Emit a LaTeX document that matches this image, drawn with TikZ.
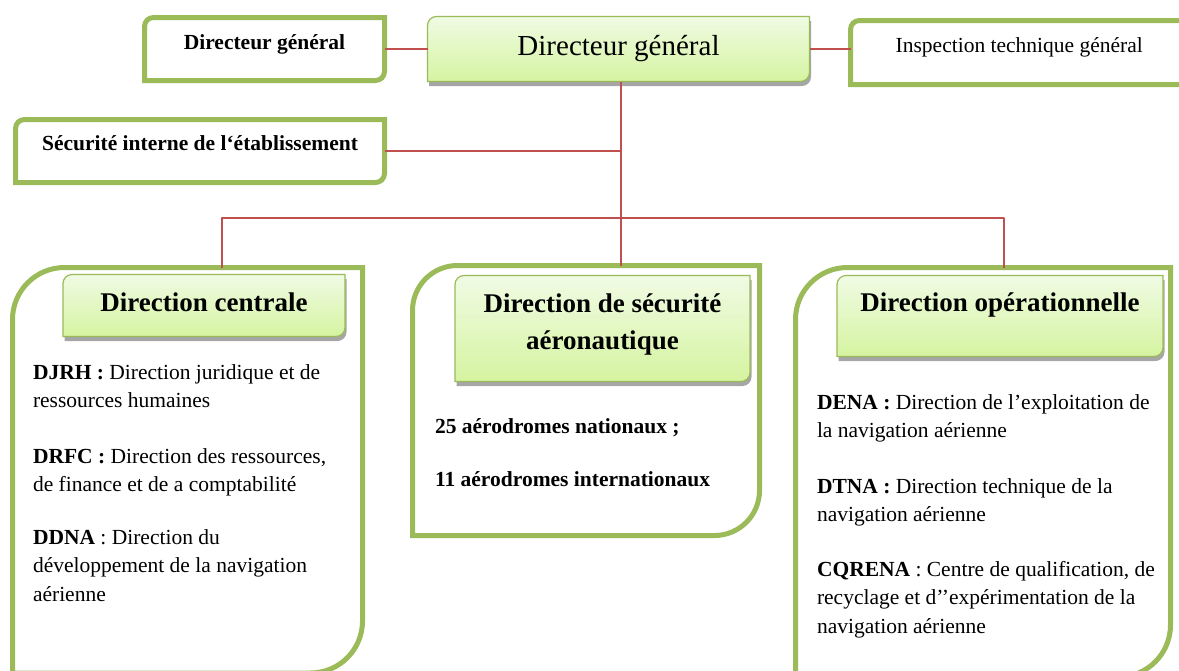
\documentclass[tikz,border=0pt]{standalone}
\usepackage{fontspec}
\setmainfont{Liberation Serif}
\usepackage{tikz}
\usetikzlibrary{backgrounds}
\definecolor{ocGreen}{HTML}{9BBB59}
\definecolor{ocRed}{HTML}{C0504D}
\definecolor{ocTop}{HTML}{F0FBE4}
\definecolor{ocBottom}{HTML}{D5F4A0}
\definecolor{ocShadow}{HTML}{A6A6A6}
\newcommand\ocCorners[3]{([shift={#3}]#1.west) [rounded corners=#2pt]
  -- ([shift={#3}]#1.north west) [sharp corners] -- ([shift={#3}]#1.north east)
  [rounded corners=#2pt] -- ([shift={#3}]#1.south east) [sharp corners]
  -- ([shift={#3}]#1.south west) -- cycle}
\tikzset{
  oc chart/.style={font=\fontsize{21.5}{28.7}\selectfont, text=black,
    line join=round},
  oc box/.style={inner sep=0pt, outer sep=0pt, anchor=north},
  oc head/.style={font=\fontsize{21.5}{28.7}\selectfont\bfseries},
  oc main/.style={font=\fontsize{29}{35}\selectfont},
  oc title/.style={font=\fontsize{27}{37}\selectfont\bfseries},
  oc item/.style={inner sep=0pt, outer sep=0pt, anchor=base west},
  oc frame/.style={draw=ocGreen, line width=5pt},
  oc shade/.style={draw=ocGreen, line width=1.2pt, top color=ocTop,
    bottom color=ocBottom},
  oc shadow/.style={fill=ocShadow},
  oc link/.style={draw=ocRed, line width=1.6pt}
}

\begin{document}
\begin{tikzpicture}[oc chart,x=1pt,y=-1pt]
\useasboundingbox (0,0) rectangle (1179,670);
\node[oc box,oc head,minimum width=240pt,text height=32pt,text depth=31pt] (dga) at (264.5,17.5) {Directeur général};
\node[oc box,oc main,minimum width=382pt,text height=39pt,text depth=26pt] (dg) at (618.5,16.5) {Directeur général};
\node[oc box,minimum width=337.5pt,text height=31.5pt,text depth=32.5pt] (insp) at (1019.25,20.5) {Inspection technique général};
\node[oc box,oc head,minimum width=369pt,text height=30.5pt,text depth=32.5pt] (secint) at (200,119.5) {Sécurité interne de l‘établissement};
\node[oc box,anchor=north west,minimum width=350pt,minimum height=405.5pt] (cen) at (12.5,267.5) {};
\node[oc box,anchor=north west,minimum width=347pt,minimum height=270pt] (dsa) at (412.5,265.5) {};
\node[oc box,anchor=north west,minimum width=375pt,minimum height=409.5pt] (opr) at (795.5,267.5) {};
\node[oc box,oc title,minimum width=282pt,text height=36.5pt,text depth=25.5pt] (tcen) at (204,274.5) {Direction centrale};
\node[oc box,oc title,minimum width=295pt,text height=36.5pt,text depth=69.5pt] (tdsa) at (602.5,275.5) {\begin{tabular}[t]{@{}c@{}}Direction de sécurité\\aéronautique\end{tabular}};
\node[oc box,oc title,minimum width=326pt,text height=35.5pt,text depth=45.5pt] (topr) at (1000,275.5) {Direction opérationnelle};
\node[oc item] (djrh) at (33,379) {\begin{tabular}[t]{@{}l@{}}\textbf{DJRH :} Direction juridique et de\\ressources humaines\end{tabular}};
\node[oc item] (drfc) at (33,463) {\begin{tabular}[t]{@{}l@{}}\textbf{DRFC :} Direction des ressources,\\de finance et de a comptabilité\end{tabular}};
\node[oc item] (ddna) at (33,544) {\begin{tabular}[t]{@{}l@{}}\textbf{DDNA} : Direction du\\développement de la navigation\\aérienne\end{tabular}};
\node[oc item,oc head] (nat) at (435,433) {25 aérodromes nationaux ;};
\node[oc item,oc head] (intl) at (435,486) {11 aérodromes internationaux};
\node[oc item] (dena) at (817,409) {\begin{tabular}[t]{@{}l@{}}\textbf{DENA :} Direction de l’exploitation de\\la navigation aérienne\end{tabular}};
\node[oc item] (dtna) at (817,493) {\begin{tabular}[t]{@{}l@{}}\textbf{DTNA :} Direction technique de la\\navigation aérienne\end{tabular}};
\node[oc item] (cqrena) at (817,576) {\begin{tabular}[t]{@{}l@{}}\textbf{CQRENA} : Centre de qualification, de\\recyclage et d’’expérimentation de la\\navigation aérienne\end{tabular}};
\coordinate (bus) at (621,218);
\draw[oc link] (dga.east) -- (dg.west);
\draw[oc link] (dg.east) -- (dg.east -| insp.west);
\draw[oc link] (dg.south -| bus) -- (bus |- dsa.north);
\draw[oc link] (secint.east) -- (secint.east -| bus);
\draw[oc link] ([xshift=34.5pt]cen.north) |- (bus) -| ([xshift=21pt]opr.north);
\begin{scope}[on background layer]
\clip (0,0) rectangle (1179,670);
\draw[oc frame] \ocCorners{cen}{52}{(0,0)};
\draw[oc frame] \ocCorners{dsa}{45}{(0,0)};
\draw[oc frame] \ocCorners{opr}{52}{(0,0)};
\draw[oc frame] \ocCorners{dga}{9}{(0,0)};
\draw[oc frame] \ocCorners{insp}{9}{(0,0)};
\draw[oc frame] \ocCorners{secint}{9}{(0,0)};
\fill[oc shadow] \ocCorners{dg}{9}{(1.5,4.5)};
\fill[oc shadow] \ocCorners{tcen}{9}{(1.5,4.5)};
\fill[oc shadow] \ocCorners{tdsa}{9}{(1.5,4.5)};
\fill[oc shadow] \ocCorners{topr}{9}{(1.5,4.5)};
\draw[oc shade] \ocCorners{dg}{9}{(0,0)};
\draw[oc shade] \ocCorners{tcen}{9}{(0,0)};
\draw[oc shade] \ocCorners{tdsa}{9}{(0,0)};
\draw[oc shade] \ocCorners{topr}{9}{(0,0)};
\end{scope}
\end{tikzpicture}
\end{document}
